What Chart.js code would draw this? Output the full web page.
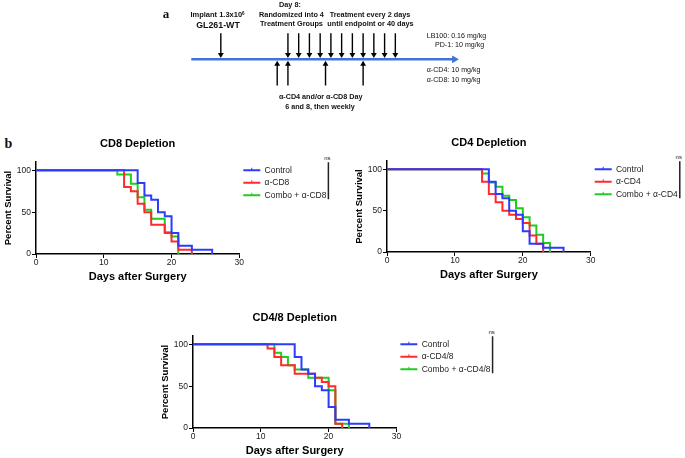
<!DOCTYPE html>
<html>
<head>
<meta charset="utf-8">
<script src="https://cdn.jsdelivr.net/npm/chart.js@4.4.0/dist/chart.umd.min.js"></script>
<style>
body { margin: 0; background: #fff; }
#page { position: relative; width: 685px; height: 458px; overflow: hidden; font-family: "Liberation Sans", Arial, sans-serif; color: #111; }
.txt { position: absolute; white-space: nowrap; line-height: 1; transform: translate(-50%, -50%); }
.left { transform: translate(0, -50%); }
.b { font-weight: bold; }
.panel { font-family: "Liberation Serif", serif; font-weight: bold; }
canvas { position: absolute; }
sup { font-size: 60%; vertical-align: 0.5em; line-height: 0; }
</style>
</head>
<body>
<div id="page">
  <canvas id="timeline" width="380" height="120" style="left:150px;top:0px"></canvas>

  <div class="txt panel" style="left:166px;top:13px;font-size:13px">a</div>
  <div class="txt b" style="left:217.5px;top:15px;font-size:7.5px">Implant 1.3x10<sup>6</sup></div>
  <div class="txt b" style="left:218px;top:24.5px;font-size:8.8px">GL261-WT</div>
  <div class="txt b" style="left:290px;top:4.5px;font-size:7.3px">Day 8:</div>
  <div class="txt b" style="left:291.5px;top:14.5px;font-size:7.3px">Randomized into 4</div>
  <div class="txt b" style="left:291.5px;top:24px;font-size:7.3px">Treatment Groups</div>
  <div class="txt b" style="left:370px;top:14.5px;font-size:7.3px">Treatment every 2 days</div>
  <div class="txt b" style="left:370.5px;top:24px;font-size:7.3px">until endpoint or 40 days</div>
  <div class="txt left" style="left:426.7px;top:36.7px;font-size:7.1px">LB100: 0.16 mg/kg</div>
  <div class="txt left" style="left:435px;top:46px;font-size:7.1px">PD-1: 10 mg/kg</div>
  <div class="txt left" style="left:426.7px;top:71px;font-size:7.1px">α-CD4: 10 mg/kg</div>
  <div class="txt left" style="left:426.7px;top:81px;font-size:7.1px">α-CD8: 10 mg/kg</div>
  <div class="txt b" style="left:320.7px;top:97px;font-size:7.2px">α-CD4 and/or α-CD8 Day</div>
  <div class="txt b" style="left:320px;top:106.5px;font-size:7.2px">6 and 8, then weekly</div>

  <div class="txt panel" style="left:8.5px;top:144px;font-size:14px">b</div>

  <canvas id="cd8"></canvas>
  <canvas id="cd4"></canvas>
  <canvas id="cd48"></canvas>
</div>

<script>
// panel a: schedule (days)
var timelineStart = -10;
var timelineEnd = 39;
var implantDays = [-4.5];
var treatmentDays = [8, 10, 12, 14, 16, 18, 20, 22, 24, 26, 28];
var antibodyDays = [6, 8, 15, 22];

// panel b: Kaplan-Meier steps (day of drop, percent surviving after it)
var xTicks = [0, 10, 20, 30];
var yTicks = [0, 50, 100];

var controlDays = [0, 15, 16, 17, 18, 19, 20, 21, 23, 26];
var controlSurv = [100, 85, 70, 65, 50, 45, 25, 10, 5, 0];

var cd8Names = ['Control', 'α-CD8', 'Combo + α-CD8'];
var cd8Days = [0, 13, 14, 15, 16, 17, 19, 20, 21, 23];
var cd8Surv = [100, 80, 75, 60, 50, 35, 25, 15, 5, 0];
var combo8Days = [0, 12, 14, 15, 16, 17, 19, 20, 21];
var combo8Surv = [100, 95, 84, 68, 53, 42, 26, 21, 0];

var cd4Names = ['Control', 'α-CD4', 'Combo + α-CD4'];
var cd4Days = [0, 14, 15, 16, 17, 18, 19, 20, 21, 22, 23];
var cd4Surv = [100, 85, 70, 60, 50, 45, 40, 35, 20, 10, 0];
var combo4Days = [0, 14, 15, 16, 17, 18, 19, 20, 21, 22, 23, 24];
var combo4Surv = [100, 95, 84, 79, 68, 63, 53, 42, 32, 21, 11, 0];

var cd48Names = ['Control', 'α-CD4/8', 'Combo + α-CD4/8'];
var cd48Days = [0, 11, 12, 13, 15, 18, 19, 20, 21, 22];
var cd48Surv = [100, 95, 85, 75, 65, 60, 55, 50, 5, 0];
var combo48Days = [0, 12, 13, 14, 15, 17, 20, 21, 23];
var combo48Surv = [100, 90, 85, 75, 70, 60, 45, 5, 0];

var lineColors = ['#2b3cff', '#ff2b2b', '#1fcc1f'];

Chart.defaults.font.family = '"Liberation Sans", Arial, sans-serif';

// ---------- panel a ----------
var arrowTop = 31, arrowTip = 57, lineY = 59.3, upTip = 61.7, upBottom = 87.5;

function arrow(day, from, to, rot) {
    return {
        data: [{ x: day, y: from }, { x: day, y: to }],
        showLine: true,
        borderColor: '#000',
        borderWidth: 1.4,
        pointRadius: [0, 3.4],
        pointStyle: 'triangle',
        pointRotation: rot,
        pointBackgroundColor: '#000',
        pointBorderColor: '#000',
        pointBorderWidth: 0
    };
}

var timelineSets = [{
    data: [{ x: timelineStart, y: lineY }, { x: timelineEnd, y: lineY }],
    showLine: true,
    borderColor: '#3f74d6',
    borderWidth: 2.5,
    pointRadius: [0, 4.5],
    pointStyle: 'triangle',
    pointRotation: 90,
    pointBackgroundColor: '#3f74d6',
    pointBorderWidth: 0
}];
implantDays.concat(treatmentDays).forEach(function(d) {
    timelineSets.push(arrow(d, arrowTop, arrowTip - 2.8, 180));
});
antibodyDays.forEach(function(d) {
    timelineSets.push(arrow(d, upBottom, upTip + 2.8, 0));
});

new Chart(document.getElementById('timeline'), {
    type: 'scatter',
    data: { datasets: timelineSets },
    options: {
        responsive: false,
        animation: false,
        layout: { padding: 0 },
        scales: {
            x: { type: 'linear', display: false, min: -16.85, max: 52.24 },
            y: { display: false, min: 0, max: 120, reverse: true }
        },
        plugins: { legend: { display: false }, tooltip: { enabled: false } }
    }
});

// ---------- panel b ----------
// legend box is kept narrow for the layout, then widened so long labels are not clipped
var legendWiden = {
    id: 'legendWiden',
    afterLayout: function(chart) {
        chart.legend.right = chart.width;
        chart.legend.width = chart.legend.right - chart.legend.left;
    }
};

var legendTicks = {
    id: 'legendTicks',
    afterDraw: function(chart) {
        var ctx = chart.ctx;
        var boxes = chart.legend.legendHitBoxes;
        ctx.save();
        boxes.forEach(function(hb, i) {
            var cx = hb.left + 17 / 2;
            var cy = hb.top + 8.5 / 2;
            ctx.strokeStyle = lineColors[i];
            ctx.lineWidth = 1;
            ctx.beginPath();
            ctx.moveTo(cx, cy - 2.5);
            ctx.lineTo(cx, cy);
            ctx.stroke();
        });
        ctx.restore();
    }
};

var nsBar = {
    id: 'nsBar',
    afterDraw: function(chart) {
        var ctx = chart.ctx;
        var boxes = chart.legend.legendHitBoxes;
        var right = 0;
        boxes.forEach(function(hb) { right = Math.max(right, hb.left + hb.width); });
        var x = right + 2;
        var top = boxes[0].top + 4.25 - 8;
        var bottom = boxes[boxes.length - 1].top + 4.25 + 4;
        ctx.save();
        ctx.strokeStyle = '#222';
        ctx.lineWidth = 1.5;
        ctx.beginPath();
        ctx.moveTo(x, top);
        ctx.lineTo(x, bottom);
        ctx.stroke();
        ctx.fillStyle = '#222';
        ctx.font = '6px "Liberation Sans", Arial, sans-serif';
        ctx.textAlign = 'center';
        ctx.textBaseline = 'middle';
        ctx.fillText('ns', x - 1, top - 3.5);
        ctx.restore();
    }
};

function survivalChart(id, title, names, days, surv, box) {
    var canvas = document.getElementById(id);
    var left = box.axisX - 36;
    var areaW = box.rightX - box.axisX;
    var areaH = box.bottom - box.top;
    var w = Math.round(box.canvasRight - left);
    canvas.width = w;
    canvas.height = Math.round(30 + areaH + 32);
    canvas.style.left = left + 'px';
    canvas.style.top = (box.top - 30) + 'px';

    var datasets = names.map(function(name, i) {
        return {
            label: name,
            data: days[i].map(function(d, j) { return { x: d, y: surv[i][j] }; }),
            borderColor: lineColors[i],
            backgroundColor: lineColors[i],
            borderWidth: 2,
            pointRadius: 0,
            stepped: 'before',
            fill: false
        };
    });

    var axisGrid = { display: true, drawOnChartArea: false, drawTicks: true, tickLength: 4, color: '#000', lineWidth: 1 };
    var axisBorder = { display: true, color: '#000', width: 1.5 };

    return new Chart(canvas, {
        type: 'line',
        data: { datasets: datasets },
        options: {
            responsive: false,
            animation: false,
            layout: { padding: { right: w - 36 - areaW - 70 } },
            scales: {
                x: {
                    type: 'linear', min: 0, max: 30,
                    afterBuildTicks: function(a) { a.ticks = xTicks.map(function(v) { return { value: v }; }); },
                    afterFit: function(s) { s.height = 32; },
                    grid: axisGrid, border: axisBorder,
                    ticks: { padding: 0, color: '#222', font: { size: 8.5 } },
                    title: { display: true, text: 'Days after Surgery', color: '#000', font: { size: 11, weight: 'bold' }, padding: { top: 2, bottom: 2.4 } }
                },
                y: {
                    min: 0, max: 110,
                    afterBuildTicks: function(a) { a.ticks = yTicks.map(function(v) { return { value: v }; }); },
                    afterFit: function(s) { s.width = 36; },
                    grid: axisGrid, border: axisBorder,
                    ticks: { padding: 1, color: '#222', font: { size: 8.5 } },
                    title: { display: true, text: 'Percent Survival', color: '#000', font: { size: 9.5, weight: 'bold' }, padding: { top: 2.8, bottom: 0 } }
                }
            },
            plugins: {
                title: { display: true, text: title, fullSize: false, color: '#000', font: { size: 11, weight: 'bold' }, padding: { top: 5.4, bottom: 11.4 } },
                legend: {
                    position: 'right', align: 'start', fullSize: false, maxWidth: 70,
                    labels: { usePointStyle: true, pointStyle: 'line', pointStyleWidth: 17, boxHeight: 8.5, padding: 4, color: '#222', font: { size: 8.5 } }
                },
                tooltip: { enabled: false }
            }
        },
        plugins: [legendWiden, legendTicks, nsBar]
    });
}

survivalChart('cd8', 'CD8 Depletion', cd8Names,
    [controlDays, cd8Days, combo8Days], [controlSurv, cd8Surv, combo8Surv],
    { axisX: 36, rightX: 239.3, top: 161.7, bottom: 254, canvasRight: 335 });
survivalChart('cd4', 'CD4 Depletion', cd4Names,
    [controlDays, cd4Days, combo4Days], [controlSurv, cd4Surv, combo4Surv],
    { axisX: 387.3, rightX: 591, top: 160.7, bottom: 251.7, canvasRight: 685 });
survivalChart('cd48', 'CD4/8 Depletion', cd48Names,
    [controlDays, cd48Days, combo48Days], [controlSurv, cd48Surv, combo48Surv],
    { axisX: 193.3, rightX: 396.7, top: 336, bottom: 427.7, canvasRight: 500 });
</script>
</body>
</html>
